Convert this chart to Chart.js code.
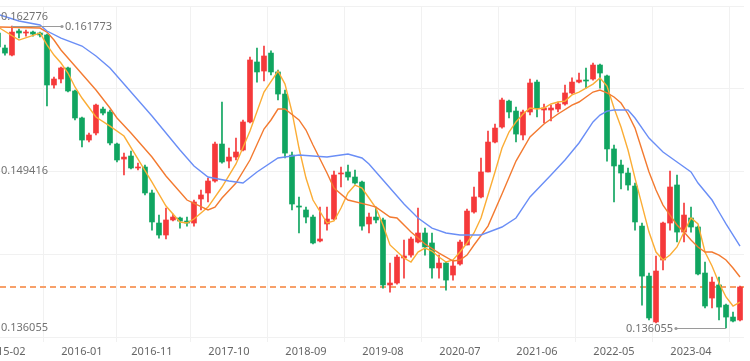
<!DOCTYPE html>
<html lang="en">
<head>
    <meta charset="UTF-8">
    <title>K-line</title>
    <script src="https://cdn.jsdelivr.net/npm/chart.js"></script>
    <style>
        html, body { margin: 0; padding: 0; background: #fff; }
        #wrap { width: 750px; height: 361px; }
    </style>
</head>
<body>
    <div id="wrap"><canvas id="kline" width="750" height="361"></canvas></div>

    <script>
    // monthly candles, 2015-01 .. 2023-11
    const months = [
        '2015-01','2015-02','2015-03','2015-04','2015-05','2015-06','2015-07','2015-08','2015-09','2015-10','2015-11','2015-12',
        '2016-01','2016-02','2016-03','2016-04','2016-05','2016-06','2016-07','2016-08','2016-09','2016-10','2016-11','2016-12',
        '2017-01','2017-02','2017-03','2017-04','2017-05','2017-06','2017-07','2017-08','2017-09','2017-10','2017-11','2017-12',
        '2018-01','2018-02','2018-03','2018-04','2018-05','2018-06','2018-07','2018-08','2018-09','2018-10','2018-11','2018-12',
        '2019-01','2019-02','2019-03','2019-04','2019-05','2019-06','2019-07','2019-08','2019-09','2019-10','2019-11','2019-12',
        '2020-01','2020-02','2020-03','2020-04','2020-05','2020-06','2020-07','2020-08','2020-09','2020-10','2020-11','2020-12',
        '2021-01','2021-02','2021-03','2021-04','2021-05','2021-06','2021-07','2021-08','2021-09','2021-10','2021-11','2021-12',
        '2022-01','2022-02','2022-03','2022-04','2022-05','2022-06','2022-07','2022-08','2022-09','2022-10','2022-11','2022-12',
        '2023-01','2023-02','2023-03','2023-04','2023-05','2023-06','2023-07','2023-08','2023-09','2023-10','2023-11'
    ];

    const open = [
        0.16118, 0.15990, 0.15930, 0.16135, 0.16118, 0.16126, 0.16118, 0.16101, 0.15675, 0.15726,
        0.15820, 0.15624, 0.15394, 0.15206, 0.15266, 0.15470, 0.15445, 0.15172, 0.15044, 0.15070,
        0.14968, 0.14976, 0.14755, 0.14499, 0.14397, 0.14525, 0.14542, 0.14516, 0.14499, 0.14704,
        0.14755, 0.14857, 0.15172, 0.15027, 0.15061, 0.15121, 0.15360, 0.15871, 0.15794, 0.15947,
        0.15786, 0.15598, 0.15078, 0.14644, 0.14610, 0.14550, 0.14346, 0.14491, 0.14533, 0.14917,
        0.14934, 0.14891, 0.14848, 0.14491, 0.14550, 0.14525, 0.13971, 0.13988, 0.14201, 0.14226,
        0.14337, 0.14414, 0.14329, 0.14116, 0.14158, 0.14056, 0.14150, 0.14312, 0.14593, 0.14721,
        0.14934, 0.15189, 0.15317, 0.15538, 0.15453, 0.15249, 0.15445, 0.15700, 0.15462, 0.15462,
        0.15470, 0.15513, 0.15607, 0.15700, 0.15717, 0.15726, 0.15845, 0.15752, 0.15130, 0.14993,
        0.14925, 0.14814, 0.14473, 0.14047, 0.13656, 0.14184, 0.14499, 0.14823, 0.14422, 0.14542,
        0.14465, 0.14073, 0.13860, 0.13971, 0.13800, 0.13698, 0.13673
    ];
    const high = [
        0.16143, 0.16016, 0.161773, 0.16152, 0.16143, 0.16135, 0.16126, 0.16109, 0.15743, 0.15828,
        0.15828, 0.15632, 0.15402, 0.15266, 0.15513, 0.15487, 0.15462, 0.15181, 0.15095, 0.15113,
        0.15010, 0.14993, 0.14780, 0.14567, 0.14627, 0.14576, 0.14550, 0.14550, 0.14695, 0.14780,
        0.14882, 0.15189, 0.15530, 0.15138, 0.15223, 0.15377, 0.15913, 0.15990, 0.16007, 0.15965,
        0.15803, 0.15632, 0.15104, 0.14721, 0.14635, 0.14567, 0.14635, 0.14635, 0.14942, 0.14976,
        0.14993, 0.14951, 0.14857, 0.14584, 0.14635, 0.14542, 0.14158, 0.14226, 0.14354, 0.14380,
        0.14627, 0.14456, 0.14414, 0.14226, 0.14167, 0.14184, 0.14354, 0.14618, 0.14806, 0.15053,
        0.15283, 0.15343, 0.15564, 0.15547, 0.15487, 0.15462, 0.15726, 0.15717, 0.15513, 0.15504,
        0.15530, 0.15675, 0.15735, 0.15777, 0.15820, 0.15862, 0.15854, 0.15760, 0.15164, 0.15036,
        0.14968, 0.14840, 0.14499, 0.14073, 0.14218, 0.14508, 0.14942, 0.14908, 0.14669, 0.14635,
        0.14473, 0.14167, 0.14039, 0.14039, 0.13809, 0.13741, 0.13962
    ];
    const low = [
        0.15973, 0.15930, 0.15922, 0.16075, 0.16092, 0.16092, 0.16084, 0.15496, 0.15649, 0.15692,
        0.15615, 0.15377, 0.15147, 0.15189, 0.15249, 0.15419, 0.15164, 0.15019, 0.14908, 0.14959,
        0.14951, 0.14738, 0.14439, 0.14371, 0.14363, 0.14516, 0.14456, 0.14473, 0.14473, 0.14610,
        0.14678, 0.14848, 0.15010, 0.14968, 0.15036, 0.15113, 0.15351, 0.15700, 0.15709, 0.15760,
        0.15547, 0.15053, 0.14610, 0.14414, 0.14499, 0.14320, 0.14337, 0.14439, 0.14525, 0.14806,
        0.14865, 0.14831, 0.14439, 0.14414, 0.14499, 0.13945, 0.13911, 0.13979, 0.14030, 0.14209,
        0.14329, 0.14226, 0.14030, 0.14030, 0.13928, 0.14013, 0.14141, 0.14312, 0.14584, 0.14712,
        0.14934, 0.15181, 0.15308, 0.15394, 0.15189, 0.15206, 0.15419, 0.15402, 0.15351, 0.15368,
        0.15445, 0.15504, 0.15598, 0.15692, 0.15649, 0.15717, 0.15649, 0.15027, 0.14678, 0.14789,
        0.14780, 0.14439, 0.13800, 0.13673, 0.13647, 0.14099, 0.14439, 0.14337, 0.14337, 0.14422,
        0.14056, 0.13775, 0.13775, 0.13673, 0.136055, 0.13656, 0.13664
    ];
    const close = [
        0.15999, 0.15947, 0.16126, 0.16118, 0.16126, 0.16109, 0.16101, 0.15675, 0.15726, 0.15820,
        0.15624, 0.15394, 0.15206, 0.15249, 0.15504, 0.15436, 0.15181, 0.15036, 0.15061, 0.14968,
        0.14976, 0.14755, 0.14508, 0.14397, 0.14525, 0.14550, 0.14516, 0.14499, 0.14678, 0.14738,
        0.14857, 0.15172, 0.15019, 0.15061, 0.15104, 0.15360, 0.15888, 0.15786, 0.15922, 0.15786,
        0.15598, 0.15095, 0.14661, 0.14635, 0.14550, 0.14329, 0.14363, 0.14533, 0.14908, 0.14925,
        0.14891, 0.14840, 0.14473, 0.14550, 0.14525, 0.13971, 0.13988, 0.14209, 0.14218, 0.14363,
        0.14414, 0.14295, 0.14116, 0.14158, 0.14013, 0.14133, 0.14337, 0.14601, 0.14721, 0.14934,
        0.15189, 0.15308, 0.15547, 0.15445, 0.15257, 0.15445, 0.15692, 0.15479, 0.15479, 0.15479,
        0.15513, 0.15607, 0.15700, 0.15717, 0.15709, 0.15845, 0.15777, 0.15130, 0.14985, 0.14925,
        0.14823, 0.14508, 0.14047, 0.13690, 0.14090, 0.14499, 0.14806, 0.14422, 0.14567, 0.14465,
        0.14065, 0.13792, 0.13996, 0.13783, 0.13698, 0.13664, 0.13954
    ];

    // moving average lines: [month index, value]
    const maFast = [
        [0, 0.16169], [3, 0.16058], [6, 0.16118], [7, 0.16016], [8, 0.15930], [9, 0.15862], [10, 0.15777],
        [11, 0.15658], [12, 0.15564], [14, 0.15402], [16, 0.15325], [18, 0.15240], [20, 0.15044], [22, 0.14848],
        [24, 0.14644], [26, 0.14508], [27, 0.14499], [28, 0.14533], [30, 0.14635], [32, 0.14806], [34, 0.15002],
        [36, 0.15283], [38, 0.15615], [40, 0.15794], [41, 0.15683], [42, 0.15445], [43, 0.15138], [44, 0.14882],
        [45, 0.14695], [47, 0.14499], [48, 0.14516], [49, 0.14627], [50, 0.14755], [51, 0.14823], [52, 0.14797],
        [53, 0.14712], [54, 0.14627], [55, 0.14482], [56, 0.14312], [58, 0.14201], [59, 0.14167], [60, 0.14252],
        [61, 0.14286], [62, 0.14260], [63, 0.14209], [64, 0.14167], [65, 0.14184], [66, 0.14252], [67, 0.14329],
        [68, 0.14414], [69, 0.14542], [70, 0.14738], [71, 0.14934], [72, 0.15138], [73, 0.15274], [74, 0.15360],
        [75, 0.15428], [76, 0.15479], [77, 0.15470], [78, 0.15479], [79, 0.15513], [80, 0.15530], [81, 0.15538],
        [82, 0.15590], [83, 0.15615], [84, 0.15649], [85, 0.15683], [86, 0.15735], [87, 0.15666], [88, 0.15479],
        [89, 0.15317], [90, 0.15121], [91, 0.14882], [92, 0.14652], [93, 0.14422], [94, 0.14252], [95, 0.14184],
        [96, 0.14226], [97, 0.14295], [98, 0.14422], [99, 0.14542], [100, 0.14491], [101, 0.14252], [102, 0.14133],
        [103, 0.13988], [104, 0.13869], [105, 0.13792], [106, 0.13826]
    ];
    const maMid = [
        [0, 0.16169], [6, 0.16160], [7, 0.16126], [8, 0.16058], [9, 0.15973], [11, 0.15837], [14, 0.15632],
        [16, 0.15479], [17, 0.15394], [19, 0.15266], [22, 0.15061], [24, 0.14900], [27, 0.14695], [30, 0.14610],
        [31, 0.14635], [32, 0.14712], [34, 0.14840], [36, 0.15036], [38, 0.15300], [39, 0.15377], [40, 0.15470],
        [41, 0.15470], [43, 0.15377], [44, 0.15291], [45, 0.15164], [47, 0.14925], [48, 0.14797], [50, 0.14695],
        [53, 0.14652], [54, 0.14635], [56, 0.14550], [57, 0.14542], [59, 0.14422], [61, 0.14320], [63, 0.14243],
        [65, 0.14175], [66, 0.14184], [67, 0.14226], [68, 0.14312], [70, 0.14473], [72, 0.14746], [74, 0.15027],
        [76, 0.15232], [78, 0.15343], [80, 0.15428], [82, 0.15504], [83, 0.15530], [85, 0.15615], [86, 0.15632],
        [87, 0.15607], [88, 0.15573], [89, 0.15521], [90, 0.15428], [91, 0.15308], [92, 0.15121], [93, 0.14934],
        [94, 0.14780], [95, 0.14652], [96, 0.14567], [97, 0.14482], [98, 0.14422], [99, 0.14354], [100, 0.14295],
        [101, 0.14252], [102, 0.14252], [103, 0.14226], [104, 0.14184], [105, 0.14116], [106, 0.14039]
    ];
    const maSlow = [
        [0, 0.162776], [3, 0.16220], [6, 0.16186], [7, 0.16135], [9, 0.16075], [12, 0.16007], [14, 0.15922],
        [16, 0.15820], [18, 0.15683], [20, 0.15547], [22, 0.15411], [24, 0.15266], [26, 0.15121], [28, 0.14985],
        [30, 0.14891], [33, 0.14857], [35, 0.14840], [37, 0.14934], [40, 0.15053], [43, 0.15078], [47, 0.15061],
        [50, 0.15087], [52, 0.15053], [53, 0.15002], [55, 0.14865], [56, 0.14797], [58, 0.14661], [60, 0.14542],
        [62, 0.14456], [64, 0.14414], [66, 0.14397], [69, 0.14397], [72, 0.14465], [74, 0.14542], [76, 0.14721],
        [79, 0.14908], [81, 0.15036], [83, 0.15181], [85, 0.15360], [86, 0.15419], [87, 0.15453], [88, 0.15462],
        [90, 0.15462], [91, 0.15394], [93, 0.15223], [95, 0.15104], [97, 0.15019], [99, 0.14934], [100, 0.14840],
        [102, 0.14695], [103, 0.14593], [104, 0.14491], [106, 0.14303]
    ];

    // month indexes that carry an x label (2015-02, 2016-01, 2016-11 ...)
    const tickIdx = [1, 12, 22, 33, 44, 55, 66, 77, 88, 99];
    const axisLabels = [0.162776, 0.149416, 0.136055];

    const UP = '#f5393a';
    const DOWN = '#10a560';
    const candleColor = close.map((c, i) => c >= open[i] ? UP : DOWN);

    Chart.defaults.font.family = '"Noto Sans", sans-serif';
    Chart.defaults.font.size = 11;

    // labels, high/low markers and last price line
    const overlay = {
        id: 'overlay',
        beforeDatasetsDraw(chart) {
            const { ctx, chartArea: a, scales: { y } } = chart;
            const py = Math.round(y.getPixelForValue(close[close.length - 1]));
            ctx.save();
            ctx.strokeStyle = '#f7a06a';
            ctx.lineWidth = 2;
            ctx.setLineDash([6, 4]);
            ctx.beginPath();
            ctx.moveTo(a.left, py);
            ctx.lineTo(a.right, py);
            ctx.stroke();
            ctx.restore();
        },
        afterDatasetsDraw(chart) {
            const { ctx, chartArea: a, scales: { x, y } } = chart;
            ctx.save();
            ctx.font = '11px "Noto Sans"';
            ctx.fillStyle = '#727272';
            ctx.textBaseline = 'middle';

            ctx.textAlign = 'left';
            axisLabels.forEach(v => {
                let py = y.getPixelForValue(v);
                py = Math.min(Math.max(py, a.top + 11), a.bottom - 8);
                ctx.fillText(v.toFixed(6), a.left + 1, py);
            });

            const hi = Math.max(...high);
            const lo = Math.min(...low);
            const hiX = x.getPixelForValue(high.indexOf(hi));
            const hiY = Math.round(y.getPixelForValue(hi)) + 0.5;
            const loX = x.getPixelForValue(low.indexOf(lo));
            const loY = Math.round(y.getPixelForValue(lo)) + 0.5;

            ctx.strokeStyle = '#9a9a9a';
            ctx.fillStyle = '#9a9a9a';
            ctx.lineWidth = 1;
            ctx.beginPath();
            ctx.moveTo(hiX, hiY); ctx.lineTo(hiX + 50, hiY);
            ctx.moveTo(loX, loY); ctx.lineTo(loX - 50, loY);
            ctx.stroke();
            ctx.beginPath(); ctx.arc(hiX + 50, hiY, 1.6, 0, Math.PI * 2); ctx.fill();
            ctx.beginPath(); ctx.arc(loX - 50, loY, 1.6, 0, Math.PI * 2); ctx.fill();

            ctx.fillStyle = '#727272';
            ctx.textAlign = 'left';
            ctx.fillText(hi.toFixed(6), hiX + 53, hiY);
            ctx.textAlign = 'right';
            ctx.fillText(lo.toFixed(6), loX - 53, loY);
            ctx.restore();
        }
    };

    function maLine(points, color) {
        return {
            type: 'line',
            data: points.map(p => ({ x: p[0], y: p[1] })),
            borderColor: color,
            borderWidth: 1.4,
            pointRadius: 0,
            tension: 0,
            order: 0
        };
    }

    new Chart(document.getElementById('kline'), {
        type: 'bar',
        data: {
            datasets: [
                maLine(maSlow, '#6a8ef6'),
                maLine(maMid, '#f37a30'),
                maLine(maFast, '#fbad35'),
                {
                    // bodies
                    data: open.map((o, i) => ({ x: i, y: [o, close[i]] })),
                    backgroundColor: candleColor,
                    barThickness: 5,
                    minBarLength: 1,
                    grouped: false,
                    order: 1
                },
                {
                    // wicks
                    data: low.map((l, i) => ({ x: i, y: [l, high[i]] })),
                    backgroundColor: candleColor,
                    barThickness: 1,
                    grouped: false,
                    order: 2
                }
            ]
        },
        options: {
            responsive: false,
            animation: false,
            devicePixelRatio: 1,
            layout: { padding: { top: 6, right: 6, left: 0, bottom: 0 } },
            plugins: { legend: { display: false }, tooltip: { enabled: false } },
            scales: {
                x: {
                    type: 'linear',
                    min: 0.29,
                    max: 106.57,
                    offset: false,
                    border: { display: false },
                    grid: { color: '#f1f1f1', tickLength: 5 },
                    ticks: {
                        autoSkip: false,
                        maxRotation: 0,
                        padding: 3,
                        color: '#666',
                        callback: v => months[v] || ''
                    },
                    afterBuildTicks: s => { s.ticks = tickIdx.map(v => ({ value: v })); },
                    afterFit: s => {
                        s.height = 24;
                        // let the first label run off the left edge, as in the original
                        s.paddingLeft = 0;
                        s.paddingRight = 0;
                    }
                },
                y: {
                    min: 0.13528,
                    max: 0.16348,
                    border: { display: false },
                    grid: { color: '#f1f1f1', drawTicks: false },
                    ticks: { display: false },
                    afterBuildTicks: s => {
                        s.ticks = [0, 1, 2, 3, 4].map(k => ({ value: s.min + k * (s.max - s.min) / 4 }));
                    },
                    afterFit: s => { s.width = 0; }
                }
            }
        },
        plugins: [overlay]
    });
    </script>
</body>
</html>
